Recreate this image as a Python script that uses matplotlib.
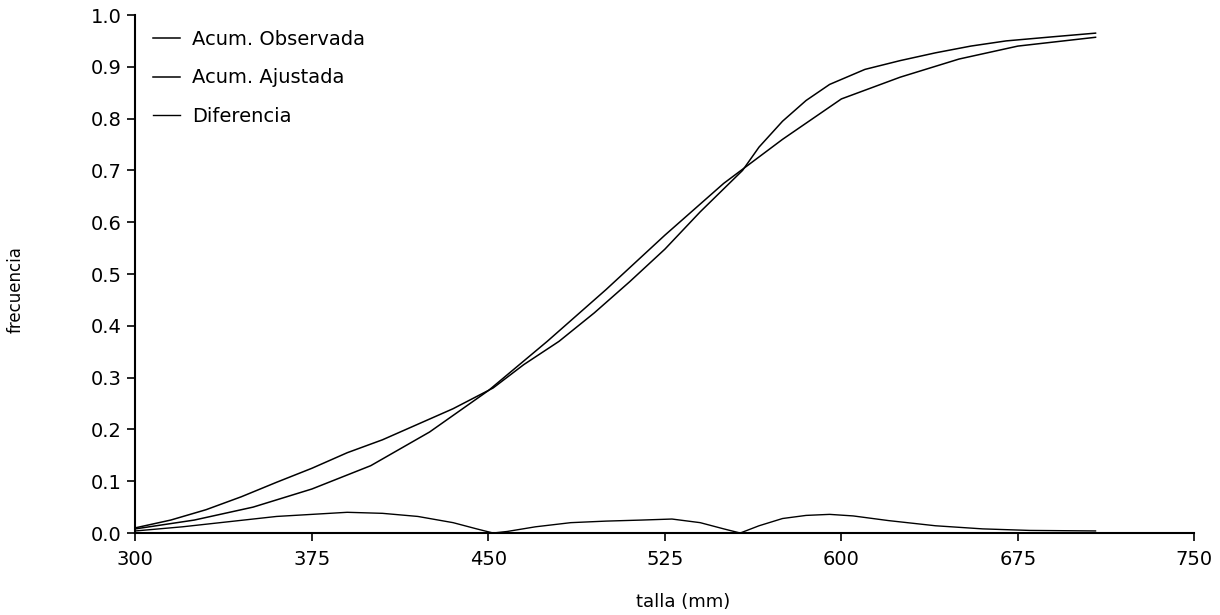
import matplotlib
matplotlib.use("Agg")
import matplotlib.pyplot as plt

# Fitted cumulative frequency
x_fit = [300, 325, 350, 375, 400, 425, 450, 475, 500, 525, 550, 575, 600, 625, 650, 675, 708]
y_fit = [0.008, 0.025, 0.05, 0.085, 0.13, 0.195, 0.275, 0.37, 0.47, 0.575, 0.675, 0.76, 0.838, 0.88, 0.915, 0.94, 0.957]

# Observed cumulative frequency
x_obs = [300, 315, 330, 345, 360, 375, 390, 405, 420, 435, 452, 465, 480, 495, 510, 525, 540,
         558, 565, 575, 585, 595, 610, 625, 640, 655, 670, 690, 708]
y_obs = [0.01, 0.025, 0.045, 0.07, 0.098, 0.125, 0.155, 0.18, 0.21, 0.24, 0.28, 0.325, 0.37,
         0.425, 0.485, 0.548, 0.62, 0.70, 0.745, 0.795, 0.835, 0.866, 0.895, 0.912, 0.927,
         0.94, 0.95, 0.958, 0.965]

# Difference
x_dif = [300, 320, 340, 360, 375, 390, 405, 420, 435, 445, 452, 458, 470, 485, 500, 515, 528,
         540, 550, 557, 565, 575, 585, 595, 605, 620, 640, 660, 680, 708]
y_dif = [0.004, 0.012, 0.022, 0.032, 0.036, 0.04, 0.038, 0.032, 0.02, 0.008, 0.0, 0.003,
         0.012, 0.02, 0.023, 0.025, 0.027, 0.02, 0.008, 0.0, 0.014, 0.028, 0.034, 0.036,
         0.033, 0.024, 0.014, 0.008, 0.005, 0.004]

labels = ["Acum. Observada", "Acum. Ajustada", "Diferencia"]
x_ticks = [300, 375, 450, 525, 600, 675, 750]
y_ticks = [0.0, 0.1, 0.2, 0.3, 0.4, 0.5, 0.6, 0.7, 0.8, 0.9, 1.0]

plt.rcParams['font.family'] = ['DejaVu Sans']

fig = plt.figure(figsize=(12.2, 6.15), dpi=100)
ax = fig.add_axes([0.111, 0.1333, 0.868, 0.8423])

ax.plot(x_obs, y_obs, color='black', lw=1.1, label=labels[0])
ax.plot(x_fit, y_fit, color='black', lw=1.1, label=labels[1])
ax.plot(x_dif, y_dif, color='black', lw=1.0, label=labels[2])

ax.set_xlim(300, 750)
ax.set_ylim(0, 1.0)
ax.set_xticks(x_ticks)
ax.set_xticklabels([str(v) for v in x_ticks])
ax.set_yticks(y_ticks)
ax.set_yticklabels([f"{v:.1f}" for v in y_ticks])

for s in ['top', 'right']:
    ax.spines[s].set_visible(False)
for s in ['left', 'bottom']:
    ax.spines[s].set_linewidth(1.5)
    ax.spines[s].set_color('black')

ax.tick_params(axis='both', direction='out', length=6, width=1.2, labelsize=14, colors='black')
ax.tick_params(axis='x', pad=6)
ax.tick_params(axis='y', pad=4)

ax.set_xlabel("talla (mm)", fontsize=13)
ax.xaxis.set_label_coords(0.517, -0.115)
ax.set_ylabel("frecuencia", fontsize=12)
ax.yaxis.set_label_coords(-0.105, 0.47)

leg = ax.legend(loc='upper left', bbox_to_anchor=(0.0, 1.005), frameon=False,
                fontsize=14, handlelength=1.4, handletextpad=0.6, labelspacing=1.0)

fig.savefig("out.png", dpi=100, facecolor='white')
